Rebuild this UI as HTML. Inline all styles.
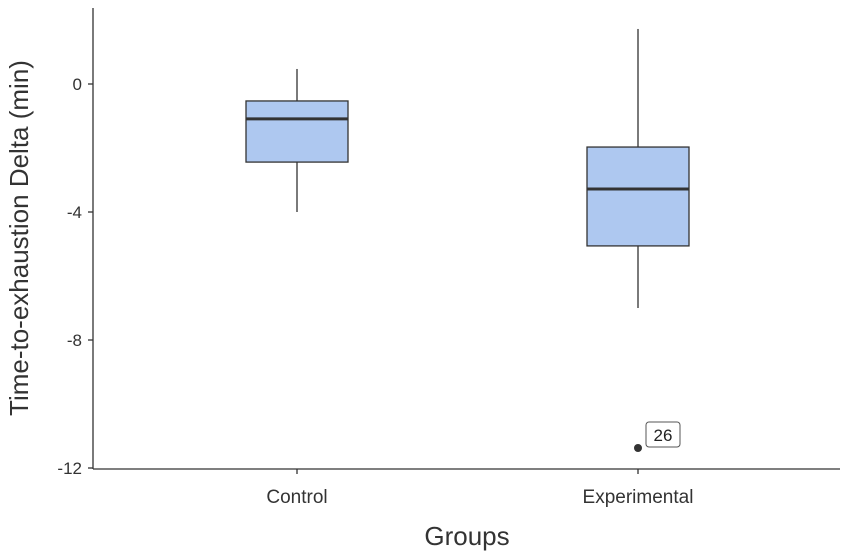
<!DOCTYPE html>
<html><head><meta charset="utf-8"><style>body{margin:0;background:#fff}svg{display:block}text{font-family:"Liberation Sans",sans-serif}</style></head>
<body>
<svg id="c" width="851" height="557"></svg>
<script>
const groups=["Control","Experimental"];
const whiskLo=[-4.0,-7.0];
const q1=[-2.44,-5.06];
const medians=[-1.09,-3.28];
const q3=[-0.53,-1.97];
const whiskHi=[0.47,1.72];
const outlierGroup=[1];
const outlierVal=[-11.375];
const outlierLabel=["26"];
const yTicks=[0,-4,-8,-12];
const yTickLabels=["0","-4","-8","-12"];
const svg=document.getElementById('c');const NS="http://www.w3.org/2000/svg";
function y(v){return 84-(v)*32;}
function x(i){return 297+i*341;}
function mk(t,a,p){const e=document.createElementNS(NS,t);for(const k in a)e.setAttribute(k,a[k]);(p||svg).appendChild(e);return e;}
let e;
e=mk('line',{x1:93,y1:8,x2:93,y2:469,stroke:'#333','stroke-width':1.3});


e=mk('line',{x1:93,y1:469,x2:840,y2:469,stroke:'#333','stroke-width':1.3});


yTicks.forEach((v,i)=>{
 mk('line',{x1:88,x2:93,y1:y(v),y2:y(v),stroke:'#333','stroke-width':1.3});
 e=mk('text',{x:82,y:y(v)+6,'text-anchor':'end','font-size':17,fill:'#333'});e.textContent=yTickLabels[i];
 
 
});
groups.forEach((g,i)=>{
 const cx=x(i),hw=51;
 mk('line',{x1:cx,x2:cx,y1:y(whiskHi[i]),y2:y(q3[i]),stroke:'#333','stroke-width':1.3});
 mk('line',{x1:cx,x2:cx,y1:y(q1[i]),y2:y(whiskLo[i]),stroke:'#333','stroke-width':1.3});
 e=mk('rect',{x:cx-hw,y:y(q3[i]),width:2*hw,height:y(q1[i])-y(q3[i]),fill:'#aec8f0',stroke:'#333','stroke-width':1.3});
 
 
 mk('line',{x1:cx-hw,x2:cx+hw,y1:y(medians[i]),y2:y(medians[i]),stroke:'#333','stroke-width':3});
 mk('line',{x1:cx,x2:cx,y1:469,y2:474,stroke:'#333','stroke-width':1.3});
 e=mk('text',{x:cx,y:503,'text-anchor':'middle','font-size':19,fill:'#333'});e.textContent=g;
 
 
});
outlierGroup.forEach((gi,k)=>{
 const cx=x(gi),cy=y(outlierVal[k]);
 e=mk('circle',{cx:cx,cy:cy,r:4,fill:'#333'});
 
 
 mk('rect',{x:cx+8,y:cy-26,width:34,height:25,rx:3,fill:'#fff',stroke:'#555','stroke-width':1});
 e=mk('text',{x:cx+25,y:cy-7,'text-anchor':'middle','font-size':17,fill:'#222'});e.textContent=outlierLabel[k];
 
 
});
e=mk('text',{x:467,y:545,'text-anchor':'middle','font-size':26,fill:'#333'});e.textContent='Groups';


e=mk('text',{x:0,y:0,'text-anchor':'middle','font-size':26,fill:'#333',transform:'translate(28,238) rotate(-90)'});e.textContent='Time-to-exhaustion Delta (min)';


</script>
</body></html>
